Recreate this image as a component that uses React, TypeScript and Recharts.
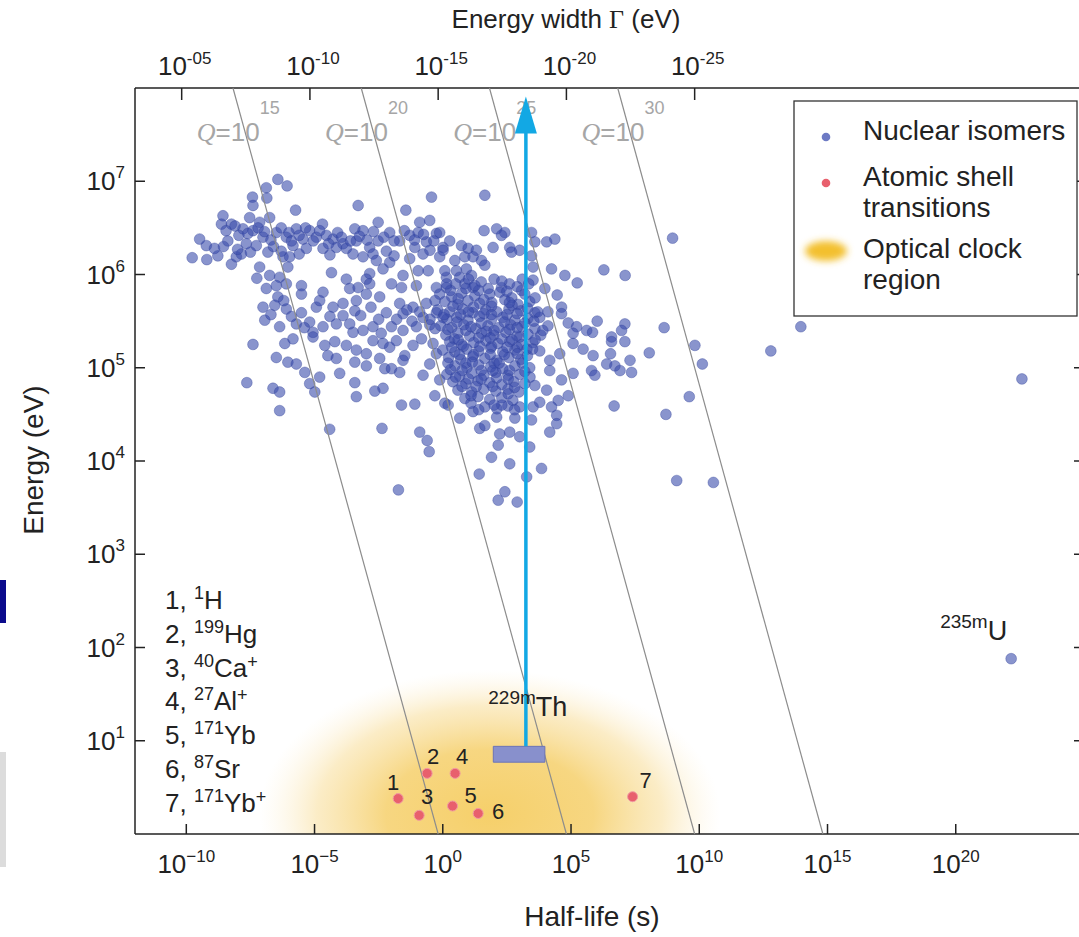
import React from "react"
import {
    ScatterChart,
    Scatter,
    XAxis,
    YAxis,
    ReferenceLine,
    ReferenceArea,
    ReferenceDot,
} from "recharts"

const W = 1100
const H = 937
const FONT = "'Liberation Sans', Arial, Helvetica, sans-serif"
const SERIF = "'Liberation Serif', 'Times New Roman', serif"
const INK = "#222"

// log10(hbar) in eV*s, Gamma = hbar / t
const LOG_HBAR = -15.18

const halfLifeTicks = [-10, -5, 0, 5, 10, 15, 20]
const energyTicks = [1, 2, 3, 4, 5, 6, 7]
const gammaTicks = [-5, -10, -15, -20, -25]
const qValues = [15, 20, 25, 30]

// nuclear isomers: [log10 half-life (s), log10 energy (eV)]
const isomers: [number, number][] = [
    [-6.43, 7.02], [-6.07, 6.95], [-6.88, 6.93], [-7.42, 6.83], [-6.86, 6.82], [-7.4, 6.74],
    [-5.74, 6.69], [-3.3, 6.74], [-0.44, 6.83], [-1.44, 6.69], [-8.57, 6.63], [-7.53, 6.61],
    [-6.75, 6.61], [-7.14, 6.56], [-8.63, 6.54], [-8.24, 6.54], [-4.69, 6.54], [-2.52, 6.56],
    [-0.9, 6.56], [-0.51, 6.58], [-9.48, 6.38], [-9.22, 6.31], [-9.77, 6.18], [-9.2, 6.16],
    [-8.77, 6.2], [-8.24, 6.11], [-8.05, 6.19], [-8.38, 6.36], [-7.79, 6.49], [-7.4, 6.47],
    [-7.66, 6.33], [-7.27, 6.31], [-6.82, 6.24], [-7.85, 6.22], [-7.01, 6.4], [-6.49, 6.45],
    [-6.1, 6.4], [-5.71, 6.49], [-5.45, 6.38], [-5.19, 6.47], [-4.93, 6.4], [-4.54, 6.42],
    [-4.28, 6.38], [-3.89, 6.33], [-3.43, 6.49], [-3.11, 6.47], [-3.37, 6.36], [-2.85, 6.29],
    [-2.52, 6.36], [-2.07, 6.45], [-1.68, 6.36], [-1.29, 6.42], [-0.96, 6.45], [-0.64, 6.35],
    [-0.25, 6.44], [0.01, 6.29], [-1.09, 6.29], [-0.77, 6.22], [-0.12, 6.19], [-1.29, 6.17],
    [-5.84, 6.31], [-5.32, 6.28], [-4.67, 6.28], [-4.15, 6.29], [-3.76, 6.28], [-6.23, 6.19],
    [-5.97, 6.19], [-6.04, 6.08], [-3.11, 6.19], [-2.72, 6.22], [-2.59, 6.15], [-4.34, 6.02],
    [-2.07, 6.13], [-2.33, 6.06], [-2.85, 6.01], [-7.14, 6.08], [-7.25, 5.96], [-6.75, 5.99],
    [-6.36, 5.97], [-6.88, 5.85], [-6.49, 5.88], [-6.1, 5.9], [-5.51, 5.88], [-5.51, 5.79],
    [-4.67, 5.81], [-3.76, 5.95], [-3.63, 5.85], [-3.3, 5.86], [-2.98, 5.95], [-2.85, 5.9],
    [-2.98, 5.79], [-2.46, 5.76], [-2.0, 5.9], [-1.61, 5.86], [-1.03, 5.88], [-1.55, 5.99],
    [-0.96, 6.04], [-0.57, 6.04], [-0.25, 5.86], [0.14, 5.97], [-6.43, 5.76], [-7.01, 5.65],
    [-6.55, 5.67], [-6.1, 5.63], [-5.51, 5.59], [-4.93, 5.65], [-4.28, 5.65], [-3.89, 5.69],
    [-3.43, 5.61], [-3.89, 5.56], [-3.37, 5.72], [-2.2, 5.59], [-1.68, 5.69], [-1.55, 5.58],
    [-1.16, 5.65], [-0.64, 5.69], [-0.77, 5.54], [-0.25, 5.59], [-6.94, 5.51], [-6.36, 5.44],
    [-5.71, 5.47], [-5.19, 5.49], [-4.67, 5.44], [-5.06, 5.38], [-4.15, 5.47], [-3.63, 5.47],
    [-3.11, 5.4], [-2.72, 5.44], [-2.0, 5.44], [-1.55, 5.4], [-1.03, 5.44], [-0.51, 5.46],
    [0.01, 5.54],
    [-7.4, 5.25], [-6.49, 5.11], [-6.04, 5.06], [-5.71, 5.04], [-5.38, 4.95], [-6.16, 5.26],
    [-5.84, 5.31], [-7.64, 4.84], [-6.62, 4.78], [-6.36, 4.74], [-6.36, 4.54], [-5.19, 4.83],
    [-4.8, 4.9], [-4.99, 4.74], [-4.41, 4.34], [-5.06, 5.33], [-4.6, 5.24], [-4.48, 5.13],
    [-4.15, 5.1], [-4.02, 4.94], [-3.43, 4.84], [-3.37, 4.69], [-4.21, 5.28], [-3.76, 5.24],
    [-3.37, 5.19], [-3.43, 5.06], [-2.98, 5.02], [-2.98, 5.15], [-2.72, 5.29], [-2.33, 5.26],
    [-2.46, 5.1], [-2.26, 4.99], [-2.0, 4.99], [-1.68, 4.95], [-2.65, 4.75], [-2.33, 4.78],
    [-2.37, 4.35], [-1.61, 4.6], [-1.09, 4.61], [-0.9, 4.31], [-0.61, 4.22], [-0.53, 4.1],
    [-1.73, 3.69], [-2.07, 5.22], [-1.81, 5.29], [-1.48, 5.13], [-1.55, 5.08], [-1.16, 5.24],
    [-0.83, 5.31], [-0.77, 4.92], [-0.31, 4.7], [-0.51, 5.04], [-0.25, 5.15], [-0.38, 5.26],
    [0.08, 4.62], [-0.12, 4.87],
    [1.64, 6.85], [1.61, 6.47], [2.1, 6.49], [2.42, 6.45], [2.29, 6.42], [1.96, 6.29],
    [2.61, 6.29], [3.0, 6.26], [2.68, 6.24], [3.46, 6.45], [3.59, 6.35], [4.05, 6.35],
    [4.37, 6.38], [3.46, 6.2], [3.52, 6.08], [4.24, 6.06], [4.76, 5.99], [5.24, 5.91],
    [6.28, 6.05], [7.11, 5.99], [8.96, 6.39], [3.52, 5.94], [3.98, 5.85], [4.46, 5.78],
    [4.63, 5.65], [4.63, 5.58], [3.59, 5.59], [3.78, 5.54], [4.89, 5.48], [5.22, 5.44],
    [5.61, 5.4], [6.02, 5.5], [5.84, 5.38], [7.1, 5.47], [6.97, 5.4], [8.63, 5.43],
    [6.58, 5.33], [-0.12, 6.45], [0.27, 6.36], [0.73, 6.31], [0.99, 6.28], [1.31, 6.26],
    [0.01, 6.26], [0.47, 6.15], [0.86, 6.19], [1.18, 6.19], [1.51, 6.15], [1.64, 6.1],
    [0.08, 6.04], [0.53, 6.04], [0.92, 6.06], [0.66, 5.97], [1.12, 5.99], [0.86, 5.9],
    [1.18, 5.86], [1.77, 5.85], [2.29, 5.86], [3.07, 5.83], [0.14, 5.86], [1.83, 5.79],
    [5.08, 5.26], [5.47, 5.2], [5.86, 5.13], [6.58, 5.28], [7.1, 5.28], [6.54, 5.15],
    [6.39, 5.04], [6.71, 5.02], [6.91, 4.97], [7.36, 4.95], [7.3, 5.08], [8.05, 5.16],
    [5.8, 4.97], [5.93, 4.92], [5.08, 4.94], [4.63, 4.87], [4.89, 4.7], [4.5, 4.65],
    [4.24, 4.58], [4.44, 4.49], [4.44, 4.4], [4.17, 4.31], [6.68, 4.59], [8.7, 4.5],
    [9.61, 4.69], [9.83, 5.24], [10.12, 5.04], [3.39, 4.15], [3.85, 3.92], [3.27, 3.83],
    [2.61, 3.97], [1.9, 4.04], [1.42, 3.86], [2.16, 4.17], [2.42, 3.67], [2.16, 3.58],
    [2.9, 3.56], [1.44, 4.35], [1.64, 4.38], [2.22, 4.29], [2.61, 4.31], [3.0, 4.26],
    [0.66, 4.46], [1.18, 4.53], [0.21, 4.6], [2.1, 4.47], [2.81, 4.46], [3.46, 4.44],
    [3.52, 4.58], [3.78, 4.63], [3.0, 4.58], [4.05, 4.76], [3.59, 4.81], [4.17, 4.97],
    [4.17, 5.08], [4.56, 5.15], [5.08, 5.37], [9.12, 3.79], [10.55, 3.77],
    [13.96, 5.44], [12.79, 5.18], [22.58, 4.88], [22.16, 1.88],
    // dense core
    [-0.12, 5.79], [0.35, 5.76], [0.74, 5.8], [1.25, 5.77], [2.22, 5.81], [2.69, 5.75], [3.2, 5.79],
    [0.08, 5.71], [0.59, 5.68], [0.98, 5.72], [1.44, 5.69], [1.91, 5.7], [2.42, 5.73], [2.93, 5.68],
    [3.39, 5.71], [-0.2, 5.62], [0.27, 5.6], [0.78, 5.63], [1.17, 5.59], [1.68, 5.62], [2.11, 5.6],
    [2.58, 5.63], [3.04, 5.61], [4.1, 5.6], [0.16, 5.52], [0.55, 5.54], [0.98, 5.51], [1.44, 5.55],
    [1.91, 5.52], [2.34, 5.54], [2.81, 5.51], [3.32, 5.53], [-0.08, 5.45], [0.35, 5.43], [0.82, 5.46],
    [1.29, 5.42], [1.76, 5.45], [2.18, 5.43], [2.65, 5.46], [3.08, 5.44], [3.59, 5.42], [4.1, 5.45],
    [0.12, 5.35], [0.59, 5.37], [1.05, 5.34], [1.52, 5.37], [1.99, 5.35], [2.46, 5.38], [2.89, 5.34],
    [3.32, 5.36], [3.82, 5.35], [0.27, 5.28], [0.74, 5.25], [1.21, 5.27], [1.68, 5.29], [2.15, 5.26],
    [2.61, 5.28], [3.08, 5.25], [3.51, 5.27], [0.0, 5.19], [0.47, 5.17], [0.94, 5.2], [1.4, 5.18],
    [1.87, 5.21], [2.34, 5.17], [2.81, 5.19], [3.28, 5.2], [3.78, 5.18], [0.23, 5.11], [0.7, 5.09],
    [1.17, 5.12], [1.64, 5.1], [2.11, 5.08], [2.58, 5.11], [3.04, 5.09], [0.47, 5.02], [0.94, 5.0],
    [1.4, 5.03], [1.87, 5.01], [2.34, 4.99], [2.81, 5.02], [3.39, 5.0], [0.16, 4.93], [0.66, 4.91],
    [1.13, 4.94], [1.6, 4.92], [2.07, 4.95], [2.54, 4.92], [3.0, 4.93], [0.39, 4.85], [0.9, 4.83],
    [1.37, 4.86], [1.83, 4.84], [2.3, 4.82], [2.77, 4.85], [3.2, 4.83], [0.59, 4.76], [1.13, 4.74],
    [1.6, 4.77], [2.07, 4.75], [2.54, 4.77], [2.97, 4.74], [0.86, 4.67], [1.37, 4.69], [1.83, 4.66],
    [2.3, 4.68], [2.73, 4.65], [1.64, 4.58], [2.11, 4.56], [2.54, 4.59],
    // upper band, extra
    [-8.45, 6.47], [-8.1, 6.52], [-7.95, 6.42], [-7.6, 6.44], [-7.2, 6.5], [-6.95, 6.46], [-6.7, 6.37],
    [-6.3, 6.5], [-6.0, 6.45], [-5.9, 6.36], [-5.6, 6.42], [-5.35, 6.5], [-5.05, 6.36], [-4.8, 6.47],
    [-4.45, 6.33], [-4.1, 6.45], [-3.95, 6.4], [-3.6, 6.36], [-3.25, 6.41], [-2.95, 6.37], [-2.7, 6.46],
    [-2.3, 6.4], [-1.9, 6.36], [-1.5, 6.47], [-1.1, 6.37], [-0.75, 6.43], [-0.35, 6.36], [-8.9, 6.28],
    [-8.55, 6.3], [-8.0, 6.27], [-7.5, 6.24], [-6.6, 6.3], [-6.3, 6.25], [-5.6, 6.22], [-4.4, 6.21],
    [-3.5, 6.22], [-2.2, 6.25], [-1.9, 6.2], [-0.5, 6.26],
    // core, extra
    [0.5, 5.9], [1.0, 5.95], [1.5, 5.92], [2.0, 5.95], [2.6, 5.9], [3.1, 5.95], [0.3, 5.83],
    [0.9, 5.85], [1.4, 5.83], [2.5, 5.82], [2.9, 5.87], [0.4, 5.66], [1.2, 5.65], [1.9, 5.66],
    [2.7, 5.67], [3.3, 5.64], [0.7, 5.57], [1.6, 5.58], [2.5, 5.57], [3.55, 5.5], [0.55, 5.49],
    [1.5, 5.48], [2.4, 5.49], [3.2, 5.48], [0.9, 5.4], [1.7, 5.39], [2.6, 5.41], [0.45, 5.31],
    [1.4, 5.32], [2.3, 5.31], [3.0, 5.33], [0.8, 5.23], [1.9, 5.23], [2.9, 5.22], [1.2, 5.14],
    [2.4, 5.14], [3.3, 5.13], [0.9, 5.05], [2.0, 5.05], [2.6, 4.97], [1.5, 4.97], [0.3, 4.98],
    [1.0, 4.88], [2.1, 4.89], [2.8, 4.79], [1.3, 4.8], [1.1, 4.62], [2.3, 4.6],
    [-1.4, 5.62], [-0.9, 5.6], [-0.5, 5.52], [-1.2, 5.5], [-0.3, 5.42], [-1.8, 5.52], [-2.5, 5.52],
    [-3.2, 5.56], [-6.7, 5.57], [-5.9, 5.55], [-5.4, 5.43], [-4.4, 5.55], [-3.5, 5.38], [-2.4, 5.37],
    [-2.8, 5.65], [-4.8, 5.72], [-6.2, 5.72],
    [0.15, 5.9], [1.25, 5.88], [2.3, 5.93], [3.35, 5.9], [-0.3, 5.72], [0.6, 5.74], [1.6, 5.73],
    [2.6, 5.7], [3.6, 5.75], [0.05, 5.57], [1.0, 5.6], [1.9, 5.57], [2.9, 5.58], [3.7, 5.6],
    [0.2, 5.41], [1.1, 5.44], [2.0, 5.4], [2.9, 5.43], [3.9, 5.4], [0.6, 5.3], [1.85, 5.32],
    [2.7, 5.3], [3.6, 5.3], [0.35, 5.22], [1.45, 5.23], [2.5, 5.22], [3.5, 5.2], [0.65, 5.14],
    [1.85, 5.14], [2.9, 5.15], [0.2, 5.05], [1.15, 5.06], [2.2, 5.05], [3.1, 5.05], [0.75, 4.97],
    [1.95, 4.97], [3.2, 4.96], [0.5, 4.9], [1.5, 4.88], [2.55, 4.88], [3.4, 4.9], [0.75, 4.8],
    [1.95, 4.8], [2.55, 4.72], [1.1, 4.7], [2.0, 4.6], [1.4, 4.55], [2.8, 4.55],
]

// atomic shell transitions (optical clocks)
const atomicLogT = [-1.74, -0.61, -0.92, 0.48, 0.38, 1.38, 7.4]
const atomicLogE = [0.38, 0.65, 0.2, 0.65, 0.3, 0.22, 0.4]
const atomicMass = ["1", "199", "40", "27", "171", "87", "171"]
const atomicSymbol = ["H", "Hg", "Ca", "Al", "Yb", "Sr", "Yb"]
const atomicCharge = ["", "", "+", "+", "", "", "+"]

// 229mTh isomer
const thHalfLife = [1.97, 3.98]
const thEnergy = [0.77, 0.94]
const thArrowT = 3.24
const uIsomer = [22.16, 1.88]

// optical clock region: centre and half-extent in decades
const clockCenter = [1.83, 0.21]
const clockHalf = [9, 1.55]

const labelOffsets: [number, number][] = [
    [-5, -17], [6, -17], [8, -19], [7, -17], [18, -11], [20, -2], [13, -17],
]

const isomerData = isomers.map(([t, e]) => ({ t, e }))
const atomicData = atomicLogT.map((t, i) => ({ t, e: atomicLogE[i], n: i }))

const sup = (v: number) => (v < 0 ? `\u2212${-v}` : `${v}`)

function BottomTick(props: any) {
    const { x, y, payload } = props
    return (
        <g>
            <line x1={x} x2={x} y1={y} y2={y - 10} stroke={INK} strokeWidth={1.5} />
            <text x={x} y={y + 39} textAnchor="middle" fontFamily={FONT} fontSize={26} fill={INK}>
                10<tspan dy={-11} fontSize={17}>{sup(payload.value)}</tspan>
            </text>
        </g>
    )
}

// top ticks: energy width Gamma, placed at t = hbar / Gamma
function GammaTick({ cx, cy, g }: any) {
    const txt = `-${String(-g).padStart(2, "0")}`
    return (
        <g>
            <line x1={cx} x2={cx} y1={cy} y2={cy + 12} stroke={INK} strokeWidth={1.5} />
            <text x={cx + 3} y={cy - 13} textAnchor="middle" fontFamily={FONT} fontSize={26} fill={INK}>
                10<tspan dy={-11} fontSize={17}>{txt}</tspan>
            </text>
        </g>
    )
}

function LeftTick(props: any) {
    const { x, y, payload } = props
    return (
        <g>
            <line x1={x} x2={x + 10} y1={y} y2={y} stroke={INK} strokeWidth={1.5} />
            <text x={x - 10} y={y + 9} textAnchor="end" fontFamily={FONT} fontSize={26} fill={INK}>
                10<tspan dy={-12} fontSize={17}>{payload.value}</tspan>
            </text>
        </g>
    )
}

function RightTick(props: any) {
    const { x, y } = props
    return <line x1={x} x2={x - 10} y1={y} y2={y} stroke={INK} strokeWidth={1.5} />
}

function QLabel({ cx, cy, q }: any) {
    return (
        <text x={cx - 49} y={cy + 6} fontFamily={FONT} fontSize={26} fill="#a6a6a6">
            <tspan fontFamily={SERIF} fontStyle="italic">Q</tspan>{"=10"}<tspan dy={-27} fontSize={18}>{q}</tspan>
        </text>
    )
}

function IsomerDot({ cx, cy }: any) {
    return (
        <circle cx={cx} cy={cy} r={5.4} fill="#3a4dab" fillOpacity={0.6}
            stroke="#2c3d98" strokeOpacity={0.45} strokeWidth={0.8} />
    )
}

function AtomicDot({ cx, cy, payload }: any) {
    const [dx, dy] = labelOffsets[payload.n]
    return (
        <g>
            <circle cx={cx} cy={cy} r={5} fill="#e8606d" stroke="#f19aa2" strokeWidth={1} />
            <text x={cx + dx} y={cy + dy + 8} textAnchor="middle" fontFamily={FONT} fontSize={22} fill={INK}>
                {payload.n + 1}
            </text>
        </g>
    )
}

const axisLine = { stroke: INK, strokeWidth: 1.5 }

export default function App() {
    return (
        <div style={{ position: "absolute", left: 0, top: 0, width: 1079, height: 937, overflow: "hidden", background: "#fff" }}>
            <ScatterChart width={W} height={H} margin={{ top: 87, right: 15, bottom: 102, left: 134 }}>
                <defs>
                    <radialGradient id="clockGlow" cx="0.5" cy="0.5" r="0.5">
                        <stop offset="0%" stopColor="#f5cd62" stopOpacity={0.95} />
                        <stop offset="45%" stopColor="#f6d273" stopOpacity={0.9} />
                        <stop offset="75%" stopColor="#f8dd98" stopOpacity={0.55} />
                        <stop offset="100%" stopColor="#fcefd0" stopOpacity={0} />
                    </radialGradient>
                </defs>
                <XAxis xAxisId="b" type="number" dataKey="t" domain={[-12, 25]} ticks={halfLifeTicks}
                    interval={0} height={1} tickSize={0} tickMargin={0} tickLine={false}
                    axisLine={axisLine} tick={(p: any) => <BottomTick {...p} />} allowDataOverflow />
                <XAxis xAxisId="t" orientation="top" type="number" dataKey="t" domain={[-12, 25]}
                    height={1} tick={false} tickLine={false} axisLine={axisLine} allowDataOverflow />
                <YAxis yAxisId="l" type="number" dataKey="e" domain={[0, 8]} ticks={energyTicks}
                    interval={0} width={1} tickSize={0} tickMargin={0} tickLine={false}
                    axisLine={axisLine} tick={(p: any) => <LeftTick {...p} />} allowDataOverflow />
                <YAxis yAxisId="r" orientation="right" type="number" domain={[0, 8]} ticks={energyTicks}
                    interval={0} width={1} tickSize={0} tickMargin={0} tickLine={false}
                    axisLine={axisLine} tick={(p: any) => <RightTick {...p} />} allowDataOverflow />

                <ReferenceArea xAxisId="b" yAxisId="l"
                    x1={clockCenter[0] - clockHalf[0]} x2={clockCenter[0] + clockHalf[0]}
                    y1={clockCenter[1] - clockHalf[1]} y2={clockCenter[1] + clockHalf[1]}
                    fill="url(#clockGlow)" fillOpacity={1} stroke="none" ifOverflow="hidden" />

                <Scatter xAxisId="b" yAxisId="l" data={isomerData} isAnimationActive={false}
                    shape={(p: any) => <IsomerDot {...p} />} />

                {qValues.map((q) => (
                    <ReferenceLine key={q} xAxisId="b" yAxisId="l" stroke="#8c8c8c" strokeWidth={1.2}
                        segment={[{ x: q + LOG_HBAR - 8, y: 8 }, { x: q + LOG_HBAR, y: 0 }]}
                        zIndex={700} />
                ))}
                {qValues.map((q) => (
                    <ReferenceDot key={`ql${q}`} xAxisId="b" yAxisId="l" x={q + LOG_HBAR - 7.5} y={7.5}
                        r={0} zIndex={700} shape={(p: any) => <QLabel {...p} q={q} />} />
                ))}
                {gammaTicks.map((g) => (
                    <ReferenceDot key={`g${g}`} xAxisId="b" yAxisId="l" x={LOG_HBAR - g} y={8}
                        r={0} zIndex={700} ifOverflow="visible" shape={(p: any) => <GammaTick {...p} g={g} />} />
                ))}

                <ReferenceArea xAxisId="b" yAxisId="l" x1={thHalfLife[0]} x2={thHalfLife[1]}
                    y1={thEnergy[0]} y2={thEnergy[1]} fill="#8890cc" fillOpacity={1}
                    stroke="#6c74b6" strokeWidth={1} zIndex={750} />
                <ReferenceLine xAxisId="b" yAxisId="l" stroke="#12a8e4" strokeWidth={3.5}
                    segment={[{ x: thArrowT, y: thEnergy[1] }, { x: thArrowT, y: 7.55 }]} zIndex={800} />
                <ReferenceDot xAxisId="b" yAxisId="l" x={thArrowT} y={7.91} r={0} zIndex={800}
                    shape={({ cx, cy }: any) => (
                        <polygon points={`${cx},${cy} ${cx - 11},${cy + 37} ${cx + 11},${cy + 37}`} fill="#12a8e4" />
                    )} />
                <ReferenceDot xAxisId="b" yAxisId="l" x={thHalfLife[0]} y={thEnergy[1]} r={0} zIndex={800}
                    shape={({ cx, cy }: any) => (
                        <text x={cx - 5} y={cy - 30} fontFamily={FONT} fontSize={27} fill={INK}>
                            <tspan dy={-12} fontSize={19}>229m</tspan>
                            <tspan dy={12}>Th</tspan>
                        </text>
                    )} />
                <ReferenceDot xAxisId="b" yAxisId="l" x={uIsomer[0]} y={uIsomer[1]} r={0} zIndex={800}
                    shape={({ cx, cy }: any) => (
                        <text x={cx - 4} y={cy - 19} textAnchor="end" fontFamily={FONT} fontSize={27} fill={INK}>
                            <tspan dy={-12} fontSize={19}>235m</tspan>
                            <tspan dy={12}>U</tspan>
                        </text>
                    )} />

                <Scatter xAxisId="b" yAxisId="l" data={atomicData} isAnimationActive={false}
                    shape={(p: any) => <AtomicDot {...p} />} zIndex={900} />
            </ScatterChart>

            <svg width={1079} height={937} style={{ position: "absolute", left: 0, top: 0, pointerEvents: "none" }}>
                <defs>
                    <filter id="blur" x="-50%" y="-50%" width="200%" height="200%">
                        <feGaussianBlur stdDeviation={3.5} />
                    </filter>
                </defs>
                <text x={566} y={28} textAnchor="middle" fontFamily={FONT} fontSize={26} fill={INK}>
                    Energy width <tspan fontFamily={SERIF}>Γ</tspan> (eV)
                </text>
                <text x={592} y={926} textAnchor="middle" fontFamily={FONT} fontSize={28} fill={INK}>
                    Half-life (s)
                </text>
                <text transform="translate(43,460) rotate(-90)" textAnchor="middle" fontFamily={FONT} fontSize={28} fill={INK}>
                    Energy (eV)
                </text>

                {atomicMass.map((m, i) => (
                    <text key={i} x={165} y={609 + i * 33.8} fontFamily={FONT} fontSize={26} fill={INK}>
                        {`${i + 1}, `}
                        <tspan dy={-10} fontSize={18}>{m}</tspan>
                        <tspan dy={10}>{atomicSymbol[i]}</tspan>
                        {atomicCharge[i] && <tspan dy={-9} fontSize={18}>{atomicCharge[i]}</tspan>}
                    </text>
                ))}

                <rect x={794} y={101} width={283} height={215} fill="#fff" stroke="#333" strokeWidth={1.3} />
                <circle cx={826} cy={137} r={4.3} fill="#6d7ac4" />
                <circle cx={826} cy={183} r={4.3} fill="#e8606d" />
                <ellipse cx={826} cy={251} rx={21} ry={10} fill="#f3c02e" filter="url(#blur)" />
                <g fontFamily={FONT} fontSize={28} fill={INK}>
                    <text x={863} y={140}>Nuclear isomers</text>
                    <text x={863} y={186}>Atomic shell</text>
                    <text x={863} y={217}>transitions</text>
                    <text x={863} y={258}>Optical clock</text>
                    <text x={863} y={289}>region</text>
                </g>
            </svg>

            <div style={{ position: "absolute", left: 0, top: 580, width: 6, height: 43, background: "#0b0b8c" }} />
            <div style={{ position: "absolute", left: 0, top: 752, width: 6, height: 115, background: "#dcdcdc" }} />
        </div>
    )
}
